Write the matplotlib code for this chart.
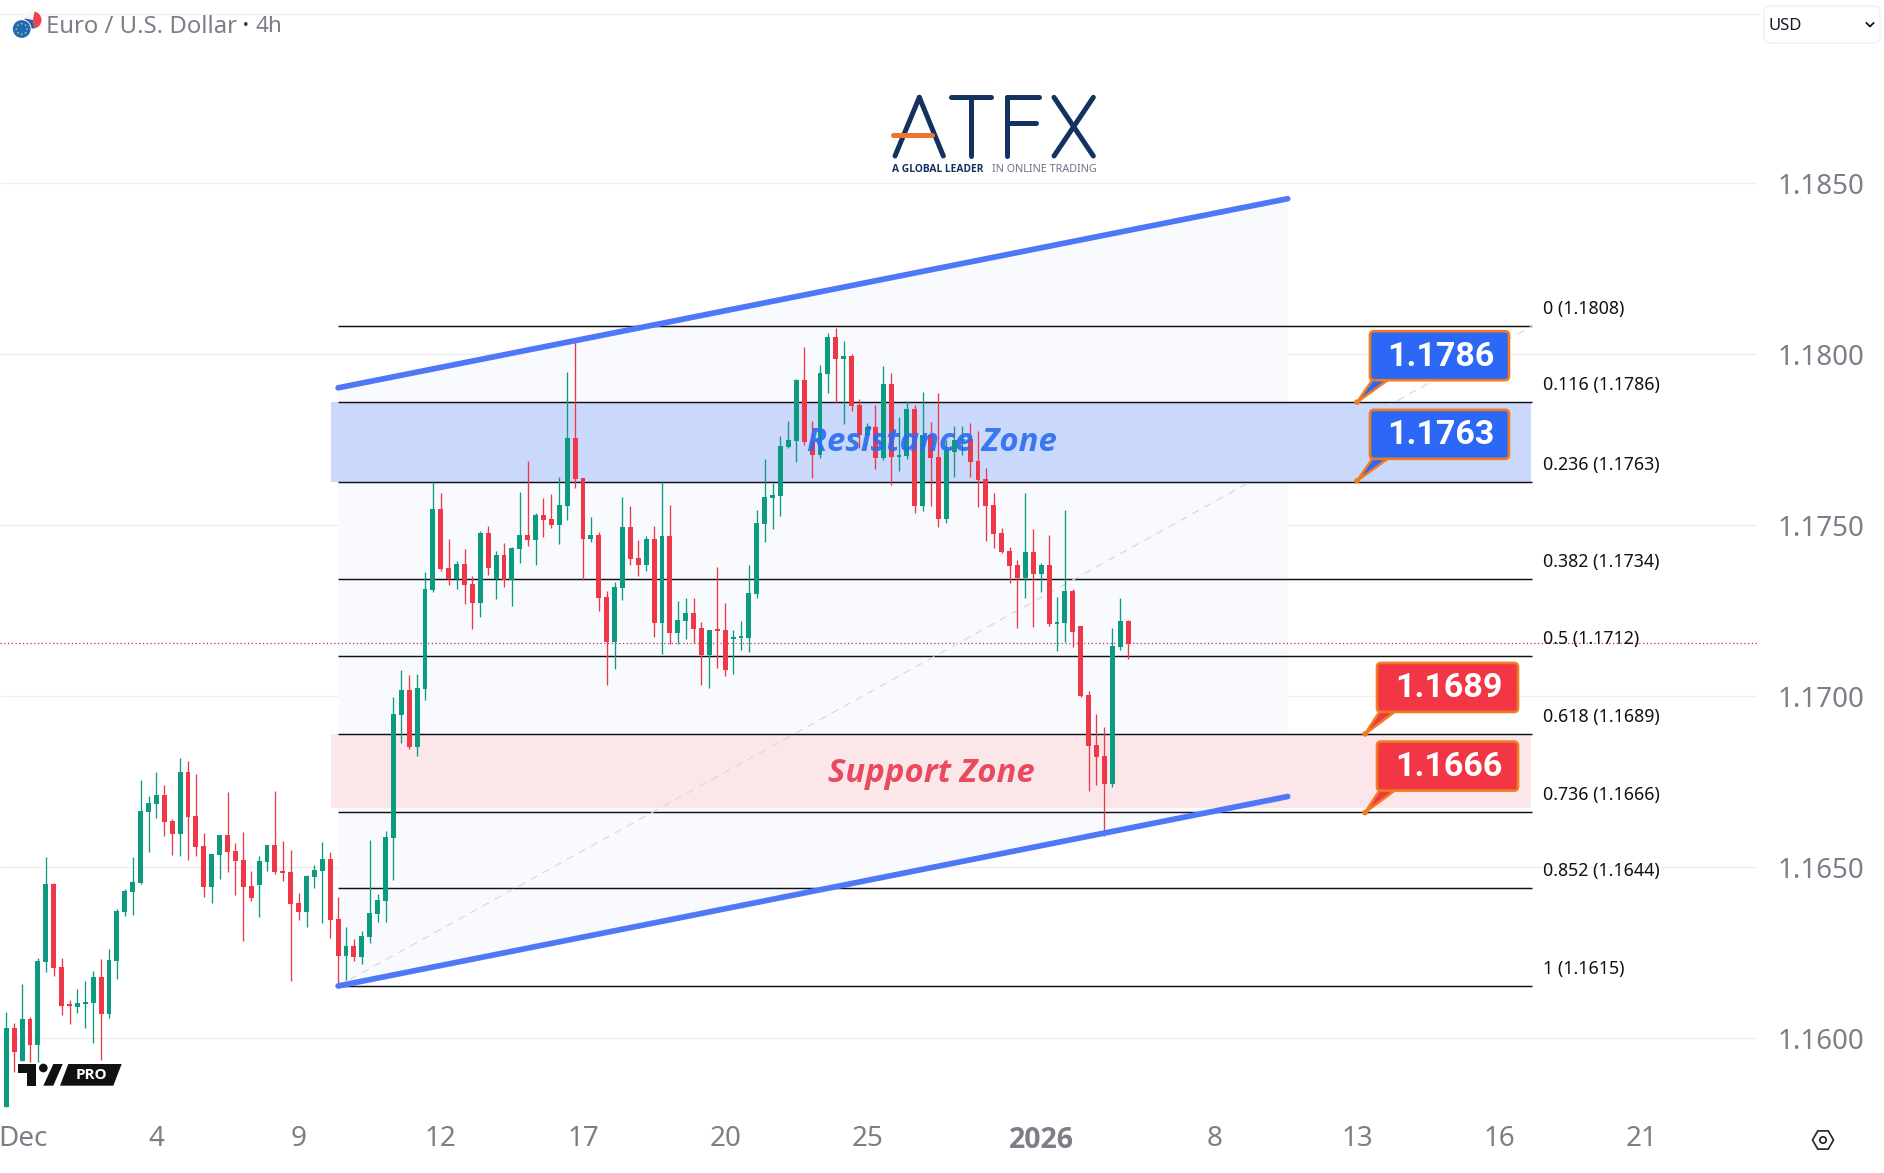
import numpy as np
import matplotlib
matplotlib.use("Agg")
import matplotlib.pyplot as plt
from matplotlib.patches import FancyBboxPatch, Polygon, Circle, RegularPolygon, Wedge

# ---------- data (candles in pips: price * 10000) ----------
opens = [11579.9,11602.9,11593.4,11605.5,11598.1,11622.4,11645.1,11620.8,11609.8,11609.1,11610.1,11610.4,11617.8,11607.2,11622.7,11636.9,11642.7,11645.4,11666.1,11668.5,
11671.1,11663.5,11659.7,11677.8,11665.0,11656.2,11644.2,11653.6,11659.4,11654.7,11652.1,11644.5,11644.8,11651.5,11656.5,11648.9,11648.6,11639.5,11636.9,11647.1,
11648.9,11652.4,11634.8,11624.0,11626.9,11623.7,11629.6,11636.3,11640.1,11658.5,11694.5,11701.8,11685.3,11702.2,11731.0,11754.9,11737.5,11734.4,11738.6,11732.8,
11727.2,11747.7,11734.2,11741.3,11733.9,11743.0,11747.1,11745.6,11753.0,11751.8,11750.0,11755.6,11775.5,11763.8,11745.9,11747.1,11729.0,11715.8,11731.6,11749.5,
11740.4,11738.3,11745.9,11721.4,11746.8,11718.4,11722.0,11724.3,11719.9,11712.0,11719.3,11719.3,11716.7,11717.0,11717.0,11729.9,11750.3,11758.0,11758.5,11772.9,
11774.6,11792.4,11774.6,11770.5,11794.2,11805.0,11798.6,11799.5,11785.1,11776.4,11778.7,11769.6,11791.3,11769.9,11770.2,11784.0,11755.6,11776.4,11769.9,11751.8,
11771.4,11774.6,11775.2,11768.8,11763.5,11755.9,11747.7,11742.4,11738.3,11734.5,11742.1,11735.7,11738.3,11721.1,11721.4,11730.7,11720.5,11700.3,11685.7,11682.5,
11674.3,11714.4,11722.0]
highs = [11607.7,11604.5,11616.0,11606.1,11623.6,11652.9,11645.5,11623.6,11611.3,11614.3,11616.7,11619.7,11623.3,11626.0,11637.7,11643.8,11652.9,11675.5,11670.8,11677.8,
11674.2,11664.0,11682.1,11681.1,11677.3,11659.9,11653.9,11659.4,11671.9,11657.0,11660.2,11648.8,11653.3,11656.5,11672.3,11657.7,11655.0,11642.4,11647.7,11650.6,
11657.3,11654.4,11641.3,11632.5,11629.0,11631.3,11657.9,11642.3,11660.6,11699.9,11707.6,11706.2,11706.6,11736.4,11762.8,11759.3,11746.1,11739.5,11743.2,11735.3,
11748.3,11749.7,11742.4,11744.7,11743.6,11759.6,11768.8,11753.7,11757.9,11759.1,11764.1,11794.8,11804.1,11763.8,11752.4,11748.0,11730.7,11733.4,11758.2,11755.6,
11745.6,11746.8,11749.7,11762.8,11755.9,11727.8,11728.7,11728.7,11721.7,11719.3,11737.8,11727.2,11719.3,11722.0,11738.3,11754.4,11769.3,11762.3,11776.1,11780.5,
11792.7,11802.1,11780.5,11796.8,11806.1,11807.7,11803.9,11800.1,11786.9,11779.8,11785.1,11796.5,11794.5,11781.6,11786.3,11785.1,11788.9,11780.2,11788.6,11774.9,
11779.0,11779.0,11779.9,11777.5,11766.7,11759.4,11749.2,11743.6,11739.8,11759.4,11748.9,11738.9,11747.1,11729.0,11754.4,11731.3,11720.5,11701.5,11694.8,11691.0,
11719.9,11728.7,11722.2]
lows = [11579.9,11590.2,11593.4,11593.1,11593.1,11619.4,11618.2,11606.8,11604.3,11607.4,11602.9,11598.7,11593.6,11606.0,11617.4,11635.7,11636.0,11645.1,11654.5,11664.5,
11659.2,11653.6,11653.4,11652.1,11653.4,11641.3,11639.6,11646.5,11648.6,11641.9,11628.5,11640.2,11635.5,11648.9,11648.0,11646.0,11616.8,11634.5,11632.5,11643.9,
11633.8,11629.3,11615.5,11617.0,11622.6,11621.7,11627.8,11634.0,11634.0,11646.2,11686.2,11684.6,11682.5,11698.8,11730.4,11736.6,11732.5,11731.3,11726.9,11719.6,
11723.1,11735.4,11728.4,11731.9,11726.3,11738.9,11743.9,11738.3,11746.5,11749.2,11744.5,11751.5,11760.9,11733.9,11745.1,11724.9,11703.2,11707.9,11728.1,11738.3,
11735.1,11736.6,11717.3,11712.3,11715.2,11715.2,11716.7,11715.5,11703.2,11702.4,11708.2,11705.9,11706.5,11713.5,11712.9,11728.7,11745.1,11748.9,11752.7,11772.6,
11768.5,11773.4,11763.8,11769.7,11788.6,11786.0,11779.6,11783.4,11772.6,11776.4,11766.4,11769.0,11761.7,11765.8,11769.5,11753.5,11754.1,11755.6,11749.5,11750.6,
11764.1,11770.5,11764.1,11755.3,11745.4,11743.3,11741.8,11733.1,11719.9,11728.7,11720.2,11730.4,11720.5,11713.2,11715.8,11714.4,11699.7,11672.2,11674.0,11659.1,
11673.4,11713.5,11710.8]
closes = [11602.9,11596.0,11605.5,11598.1,11622.6,11645.1,11620.6,11609.5,11609.5,11610.3,11610.5,11617.8,11607.2,11622.8,11637.2,11643.0,11645.6,11666.4,11668.8,11671.1,
11663.2,11659.7,11677.8,11664.7,11655.9,11644.2,11653.9,11659.4,11654.4,11651.8,11644.2,11640.9,11651.8,11656.5,11648.6,11648.4,11639.2,11636.9,11647.4,11649.2,
11652.4,11634.5,11624.0,11626.9,11623.7,11629.9,11636.6,11640.4,11658.8,11694.8,11701.8,11685.3,11702.3,11731.3,11754.9,11737.2,11734.4,11738.6,11732.5,11727.2,
11747.7,11737.5,11741.3,11733.9,11743.3,11747.1,11745.6,11753.0,11751.5,11750.0,11755.9,11775.5,11763.5,11745.9,11747.1,11728.7,11715.8,11731.9,11749.5,11740.1,
11738.3,11745.9,11721.4,11746.8,11718.4,11722.2,11724.3,11719.6,11712.0,11719.3,11719.0,11707.6,11717.3,11717.3,11730.1,11750.6,11758.2,11758.8,11773.1,11774.9,
11792.4,11774.3,11770.5,11794.5,11805.0,11798.6,11799.5,11784.8,11776.4,11778.6,11769.6,11791.3,11769.9,11770.5,11784.0,11755.6,11776.4,11769.6,11751.8,11772.0,
11774.9,11774.9,11768.5,11763.2,11755.6,11747.4,11742.1,11738.0,11734.5,11742.1,11735.7,11738.3,11721.1,11721.7,11730.7,11718.7,11700.0,11685.4,11682.2,11674.3,
11714.6,11722.0,11715.2]

fib_ratios = ["0", "0.116", "0.236", "0.382", "0.5", "0.618", "0.736", "0.852", "1"]
fib_levels = [1.18083, 1.17861, 1.17627, 1.17344, 1.17118, 1.1689, 1.16662, 1.1644, 1.16153]
price_ticks = [1.1600, 1.1650, 1.1700, 1.1750, 1.1800, 1.1850]
date_ticks = [2.1, 19, 37, 55, 73, 91, 109, 131, 153, 171, 189, 207]
date_labels = ["Dec", "4", "9", "12", "17", "20", "25", "2026", "8", "13", "16", "21"]
last_price = 1.17155
upper_channel = [1.17902, 1.18455]
lower_channel = [1.16153, 1.16707]
channel_x = [42, 162.2]
resistance_zone = [1.17627, 1.17861]
support_zone = [1.16674, 1.1689]
blue_callouts = [1.1786, 1.1763]
red_callouts = [1.1689, 1.1666]

# ---------- figure ----------
W, H = 1884, 1173
BAR = 7.9
X0 = 6.3
PPU = 34200.0
UP, DOWN = "#0C9B80", "#EF3847"

fig = plt.figure(figsize=(W/100, H/100), dpi=100, facecolor="white")
ax = fig.add_axes([0, 0, 1, 1])
ax.set_xlim(-X0/BAR, (W-X0)/BAR)
ax.set_ylim(1.18-(H-354.3)/PPU, 1.18+354.3/PPU)
for s in ax.spines.values():
    s.set_visible(False)
ax.set_facecolor("white")
FONT = "Noto Sans"
BOLD = "Open Sans"

def idx(px):
    return (px-X0)/BAR

# axes ticks drawn inside the full-bleed axes
ax.yaxis.tick_right()
ax.set_yticks(price_ticks, [f"{p:.4f}" for p in price_ticks])
ax.tick_params(axis="y", length=0, pad=-106*0.72, labelsize=20, labelcolor="#7C7F87")
ax.set_xticks(date_ticks, date_labels)
ax.tick_params(axis="x", length=0, pad=-47.5*0.72, labelsize=20, labelcolor="#7C7F87")
for t in ax.get_xticklabels()+ax.get_yticklabels():
    t.set_fontfamily(FONT)
lab2026 = ax.get_xticklabels()[date_labels.index("2026")]
lab2026.set_fontfamily(BOLD)
lab2026.set_fontweight("bold")
lab2026.set_fontsize(20.5)

# grid
ax.hlines(price_ticks, idx(0), idx(1757), color="#EFEFF1", lw=1.0, zorder=1)
ax.hlines(last_price, idx(0), idx(1757), color="#C2354F", lw=0.9, linestyles=(0, (1, 2)), zorder=1.5)

# channel fill and zones
ax.fill_between(channel_x, lower_channel, upper_channel, color="#F8FAFE", lw=0, zorder=1.2)
zx = [idx(331), idx(1531)]
ax.fill_between(zx, resistance_zone[0], resistance_zone[1], color="#C9D8FB", lw=0, zorder=1.3)
ax.fill_between(zx, support_zone[0], support_zone[1], color="#FBE7EA", lw=0, zorder=1.3)

# fib
ax.hlines(fib_levels, 42, idx(1532.5), color="#111111", lw=1.05, zorder=2)
ax.plot([42, idx(1532.5)], [fib_levels[-1], fib_levels[0]], color="#D9DADD", lw=0.9,
        dashes=(6, 5), zorder=2.1)
for r, lv in zip(fib_ratios, fib_levels):
    ax.annotate(f"{r} ({lv:.4f})", xy=(idx(1543), lv), xytext=(0, 16.5), textcoords="offset pixels",
                ha="left", va="center", fontsize=12.8, color="#111111", family=FONT, zorder=6)

# candles
o, h, l, c = [np.array(a)/1e4 for a in (opens, highs, lows, closes)]
xs = np.arange(len(o))
cols = [UP if cc >= oo else DOWN for oo, cc in zip(o, c)]
ax.vlines(xs, l, h, colors=cols, lw=0.95, zorder=3)
body_bot = np.minimum(o, c)
body_h = np.maximum(np.abs(c-o), 0.00006)
ax.bar(xs, body_h, bottom=body_bot, width=0.63, color=cols, lw=0, zorder=3.1)

# channel borders
for line in (upper_channel, lower_channel):
    ax.plot(channel_x, line, color="#4F78F8", lw=4.1, solid_capstyle="round", zorder=4)

# zone captions
ax.text(idx(931.5), 1.18+(354.3-442.5)/PPU, "Resistance Zone", color="#2B6BEE", alpha=0.9, fontsize=23.7,
        family="Open Sans", style="italic", weight="bold", ha="center", va="center", zorder=5)
ax.text(idx(931.5), 1.18+(354.3-773)/PPU, "Support Zone", color="#EA4A60", fontsize=23.7,
        family="Open Sans", style="italic", weight="bold", ha="center", va="center", zorder=5)

# ---------- pixel overlay for chrome ----------
ov = fig.add_axes([0, 0, 1, 1], facecolor="none")
ov.set_xlim(0, W)
ov.set_ylim(H, 0)
ov.axis("off")

def to_ov(x, y):
    return ov.transData.inverted().transform(ax.transData.transform((x, y)))

def callout(value, box_x0, box_x1, anchor_px, fill):
    ax_, ay_ = to_ov(idx(anchor_px), value)
    y1 = ay_-22
    y0 = y1-49
    tail = Polygon([(ax_, ay_), (box_x0+3, y1-1), (box_x0+19, y1-1)], closed=True, fc=fill, ec="#F07C20", lw=1.8, zorder=7)
    ov.add_patch(tail)
    box = FancyBboxPatch((box_x0+3, y0+3), box_x1-box_x0-6, y1-y0-6, boxstyle="round,pad=3,rounding_size=4",
                         fc=fill, ec="#F07C20", lw=1.9, zorder=8)
    ov.add_patch(box)
    ov.add_patch(Circle((ax_, ay_), 2.8, fc="#F07C20", ec="none", zorder=9))
    ov.text((box_x0+box_x1)/2+1, (y0+y1)/2+1, f"{value:.4f}", color="white", fontsize=24.5, weight="bold",
            family="Roboto", ha="center", va="center", zorder=10)

for v in blue_callouts:
    callout(v, 1370, 1509, 1357, "#2C67F6")
for v in red_callouts:
    callout(v, 1377, 1518, 1365, "#F23645")

# ATFX logo
NAVY, ORG = "#15315F", "#EE7430"
def zp(x, y):
    return 860+x/3, 80+y/3
strokes = [[(178, 52), (105, 228)], [(178, 52), (250, 228)], [(272, 52), (392, 52)], [(332, 52), (332, 228)],
           [(440, 52), (440, 228)], [(440, 52), (538, 52)], [(440, 130), (528, 130)],
           [(582, 52), (700, 228)], [(700, 52), (582, 228)]]
for s in strokes:
    pts = np.array([zp(*p) for p in s])
    ov.plot(pts[:, 0], pts[:, 1], color=NAVY, lw=3.6, solid_capstyle="round", zorder=7)
pts = np.array([zp(100, 165), zp(215, 165)])
ov.plot(pts[:, 0], pts[:, 1], color=ORG, lw=3.6, solid_capstyle="round", zorder=8)
ov.text(892, 169, "A GLOBAL LEADER", color=NAVY, fontsize=7.4, weight="bold", family=BOLD, ha="left", va="center")
ov.text(992, 169, "IN ONLINE TRADING", color="#6B7385", fontsize=7.8, family=FONT, ha="left", va="center")

# TV PRO badge
def zb(pts):
    return [(x/3, 700+y/3) for x, y in pts]
ov.add_patch(Polygon(zb([(55, 1092), (108, 1092), (108, 1157), (80, 1157), (80, 1118), (55, 1118)]), fc="#111111", ec="none", zorder=7))
ov.add_patch(Circle((130/3, 700+1104/3), 13/3, fc="#111111", ec="none", zorder=7))
ov.add_patch(Polygon(zb([(160, 1092), (188, 1092), (160, 1157), (130, 1157)]), fc="#111111", ec="none", zorder=7))
ov.add_patch(Polygon(zb([(205, 1092), (365, 1092), (340, 1157), (180, 1157)]), fc="#111111", ec="none", zorder=7))
ov.text(274/3, 700+1124/3, "PRO", color="white", fontsize=11, weight="bold", family=BOLD, ha="center", va="center", zorder=8)

# header
ov.hlines(13.5, 0, 1760, color="#F1F1F3", lw=1, zorder=0)
ov.add_patch(Circle((33, 20), 8.5, fc="#F4F5F8", ec="none", zorder=3))
ov.add_patch(Wedge((33, 20), 8.5, 280, 80, fc="#F0414E", ec="none", zorder=3.1))
ov.add_patch(Wedge((33, 20), 8.5, 80, 190, fc="#2F5FA8", ec="none", zorder=3.2))
ov.add_patch(Circle((21.7, 29), 9.8, fc="white", ec="none", zorder=3.5))
ov.add_patch(Circle((21.7, 29), 8.9, fc="#1D6CB5", ec="none", zorder=4))
for a in np.deg2rad(np.arange(0, 360, 45)):
    ov.add_patch(Circle((21.7+5.3*np.cos(a), 29+5.3*np.sin(a)), 0.8, fc="#E5C94B", ec="none", zorder=5))
ov.text(46, 27, "Euro / U.S. Dollar", color="#7C7F87", fontsize=17.2, family=FONT, ha="left", va="center")
ov.text(246, 27, "•", color="#333333", fontsize=11, family=FONT, ha="center", va="center")
ov.text(255, 27, "4h", color="#7C7F87", fontsize=16.2, family=FONT, ha="left", va="center")

# currency button
ov.add_patch(FancyBboxPatch((1768, 10), 108, 29, boxstyle="round,pad=4,rounding_size=6", fc="white", ec="#F0F0F3", lw=1))
ov.text(1768, 26, "USD", color="#131722", fontsize=12, family=FONT, ha="left", va="center")
ov.plot([1866.5, 1870, 1873.5], [23, 26.5, 23], color="#131722", lw=1.3)

# settings icon
ov.add_patch(RegularPolygon((1823, 1140), 6, radius=10.5, orientation=np.pi/6, fc="white", ec="#222222", lw=1.2))
ov.add_patch(Circle((1823, 1140), 3.2, fc="white", ec="#222222", lw=1.2, zorder=5))

fig.savefig("out.png", dpi=100, facecolor="white")
